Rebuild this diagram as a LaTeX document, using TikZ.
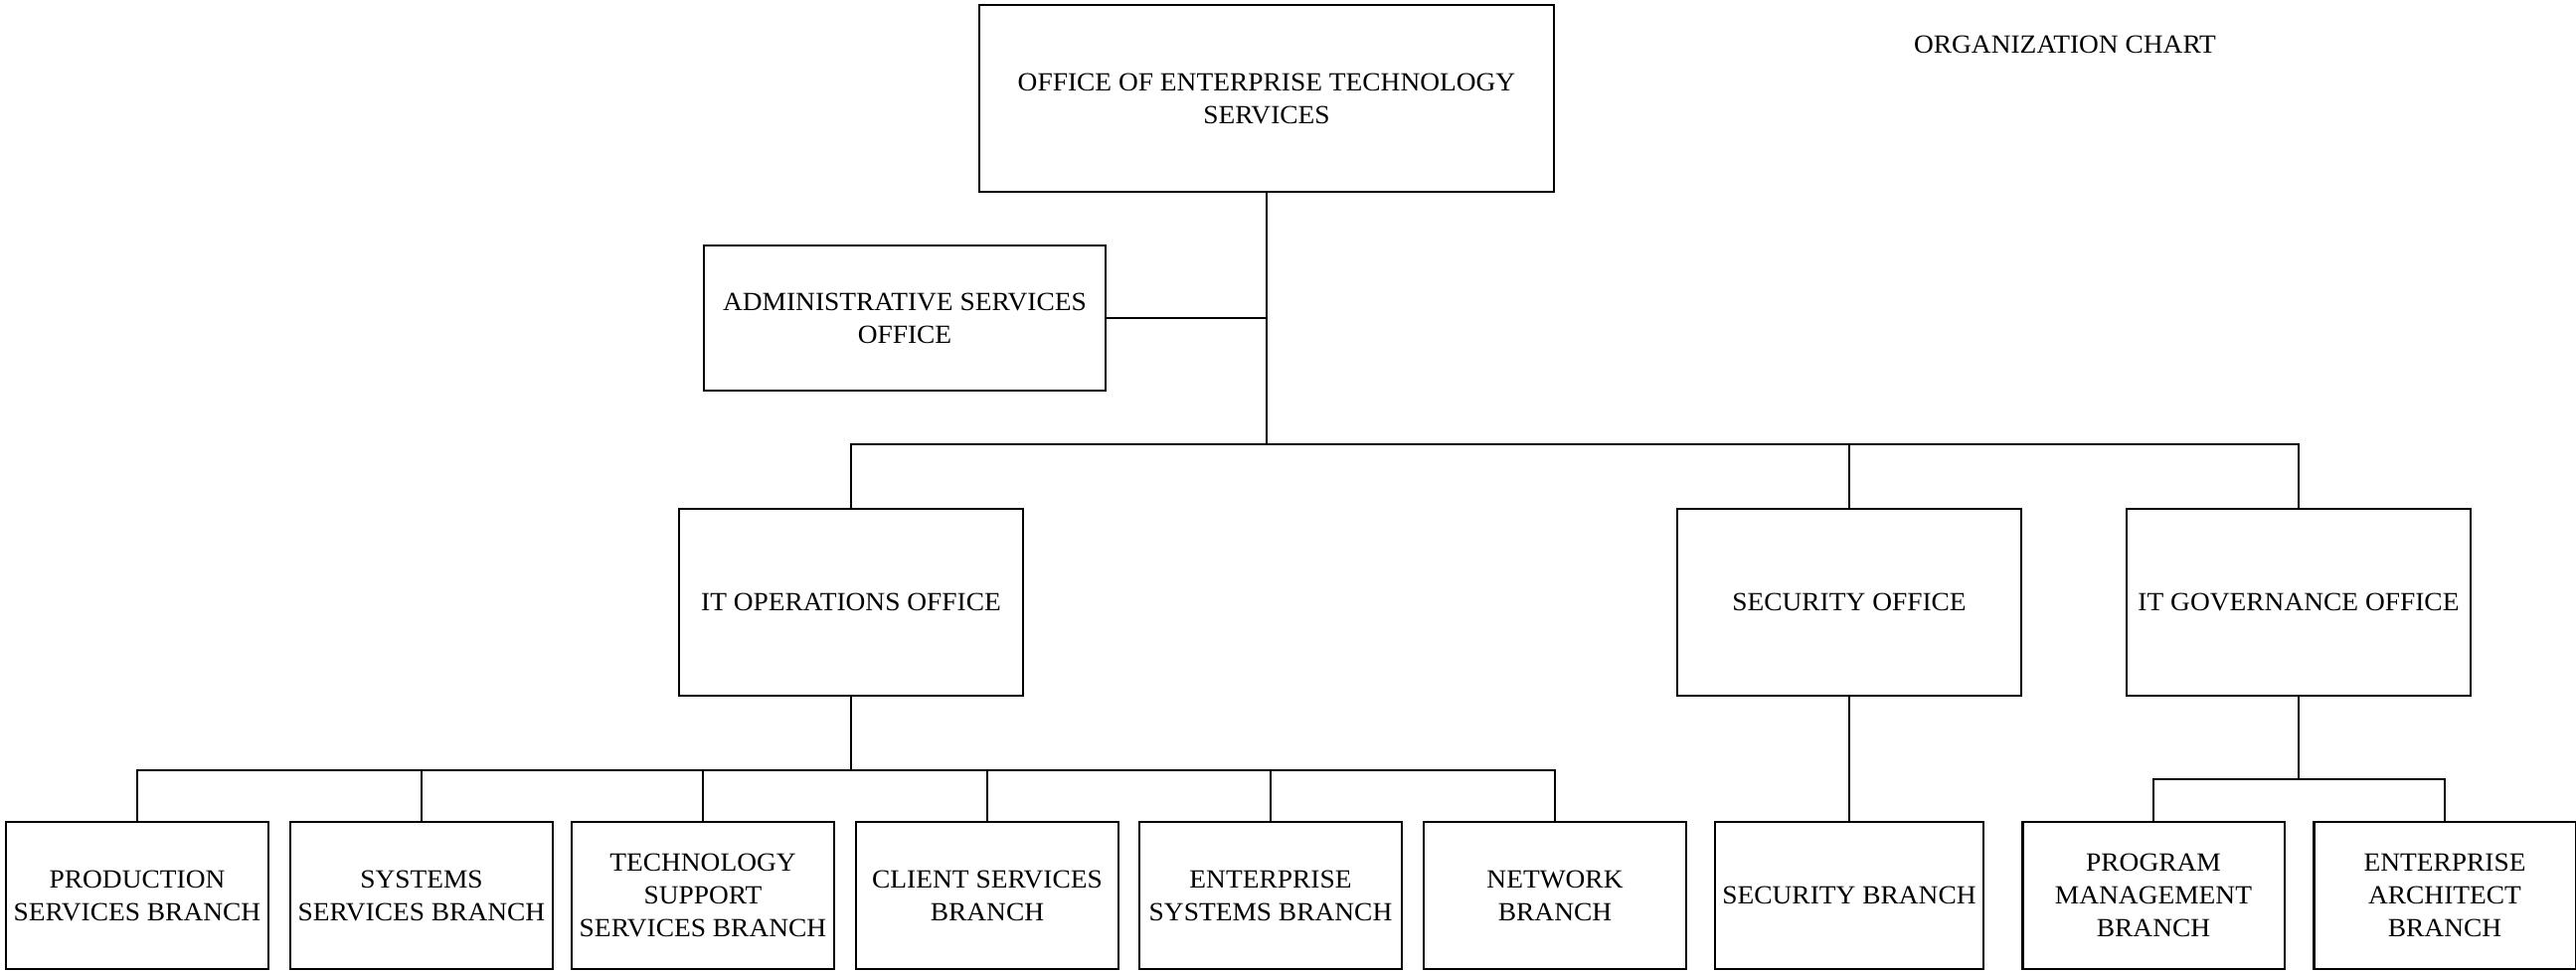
\documentclass[tikz,border=0pt]{standalone}
\usepackage{fontspec}
\setmainfont[FakeStretch=1.04]{Liberation Serif}
\usetikzlibrary{calc}

\begin{document}
\begin{tikzpicture}[x=0.01cm, y=-0.01cm,
	box/.style={draw, rectangle, line width=0.6pt, align=center, inner sep=2pt,
		font=\fontsize{7.5}{9.4}\selectfont},
	office/.style={box, minimum width=3.46cm, minimum height=1.88cm},
	branch/.style={box, minimum width=2.63cm, minimum height=1.48cm},
	link/.style={line width=0.45pt}]
					%%
\useasboundingbox (0, 0) rectangle (2591, 978);

% top
\node[box, minimum width=5.78cm, minimum height=1.88cm] (oets) at (1274, 99)
	{OFFICE OF ENTERPRISE TECHNOLOGY\\SERVICES};
\node[font=\fontsize{7.5}{9.4}\selectfont] (chart) at (2077, 45) {ORGANIZATION CHART};
\node[box, minimum width=4.04cm, minimum height=1.46cm] (admin) at (910, 320)
	{ADMINISTRATIVE SERVICES\\OFFICE};

% offices
\node[office] (itops) at (856, 606) {IT OPERATIONS OFFICE};
\node[office] (secoff) at (1860, 606) {SECURITY OFFICE};
\node[office] (itgov) at (2312, 606) {IT GOVERNANCE OFFICE};

% branches
\node[branch] (prod) at (138, 901) {PRODUCTION\\SERVICES BRANCH};
\node[branch] (sys) at (424, 901) {SYSTEMS\\SERVICES BRANCH};
\node[branch] (tech) at (707, 901) {TECHNOLOGY\\SUPPORT\\SERVICES BRANCH};
\node[branch] (client) at (993, 901) {CLIENT SERVICES\\BRANCH};
\node[branch] (ent) at (1278, 901) {ENTERPRISE\\SYSTEMS BRANCH};
\node[branch] (net) at (1564, 901) {NETWORK\\BRANCH};
\node[branch] (secbr) at (1860, 901) {SECURITY BRANCH};
\node[branch] (prog) at (2166, 901) {PROGRAM\\MANAGEMENT\\BRANCH};
\node[branch] (arch) at (2459, 901) {ENTERPRISE\\ARCHITECT\\BRANCH};

% bus levels
\coordinate (b0) at (1274, 447);
\coordinate (b1) at (856, 775);
\coordinate (b3) at (2312, 784);

% top links
\draw[link] (oets.south) -- (b0);
\draw[link] (admin.east) -- (admin.east -| b0);
\draw[link] (itops.north) |- (itgov.north |- b0) -- (itgov.north);
\draw[link] (secoff.north) -- (secoff.north |- b0);

% office links
\draw[link] (itops.south) -- (b1);
\draw[link] (prod.north) |- (net.north |- b1) -- (net.north);
\foreach \i in {sys, tech, client, ent}
\draw[link] (\i.north) -- (\i.north |- b1);
\draw[link] (secoff.south) -- (secbr.north);
\draw[link] (itgov.south) -- (b3);
\draw[link] (prog.north) |- (arch.north |- b3) -- (arch.north);
				\end{tikzpicture}
\end{document}
